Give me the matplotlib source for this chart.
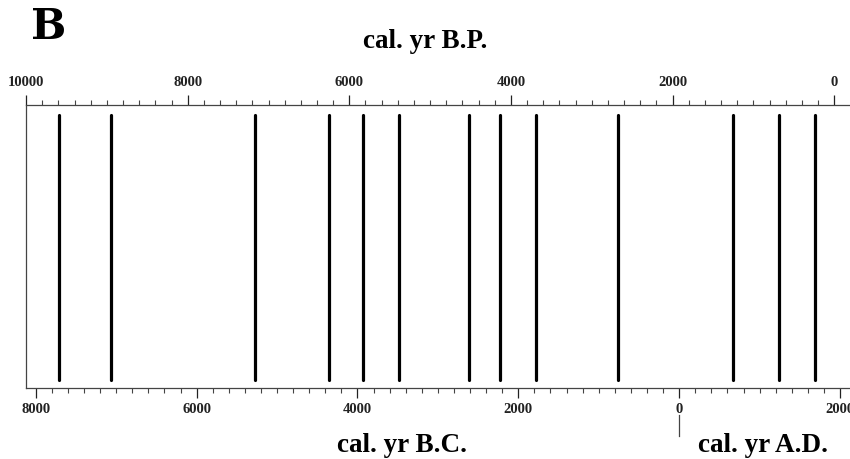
import matplotlib.pyplot as plt
from matplotlib.ticker import MultipleLocator, FuncFormatter
import matplotlib.transforms as mtransforms

# event ages, cal. yr B.P.
event_bp = [9590, 8950, 7170, 6255, 5830, 5385, 4515, 4135, 3695, 2680, 1250, 685, 240]

bp_major = [10000, 8000, 6000, 4000, 2000, 0]
ad_major = [-8000, -6000, -4000, -2000, 0, 2000]

plt.rcParams['font.family'] = ['Liberation Serif', 'DejaVu Serif']
plt.rcParams['font.weight'] = 'bold'

fig = plt.figure(figsize=(8.5, 4.59), dpi=100)
ax = fig.add_axes([0.0306, 0.1547, 0.9694, 0.6166])
ax2 = ax.twiny()

for bp in event_bp:
  ax.axvline(bp, ymin=0.03, ymax=0.965, color='black', lw=2.3, solid_capstyle='round')

# top axis: cal. yr B.P.
ax.set_xlim(10000, -194)
ax.set_ylim(0, 1)
ax.set_yticks([])
ax.xaxis.set_ticks_position('top')
ax.xaxis.set_label_position('top')
ax.set_xticks(bp_major)
ax.xaxis.set_minor_locator(MultipleLocator(200))
ax.tick_params(axis='x', which='major', direction='out', length=7.2, width=0.9, pad=4.5, labelsize=10.5, colors='#222222')
ax.tick_params(axis='x', which='minor', direction='out', length=3.3, width=0.8, colors='#444444')
ax.spines['right'].set_visible(False)
ax.spines['bottom'].set_visible(False)
for s in ['top', 'left']:
  ax.spines[s].set_linewidth(0.9)
  ax.spines[s].set_color('#444444')

# bottom axis: cal. yr B.C. / A.D.
ax2.set_xlim(-8121, 2124)
ax2.xaxis.set_ticks_position('bottom')
ax2.xaxis.set_label_position('bottom')
ax2.set_xticks(ad_major)
ax2.xaxis.set_minor_locator(MultipleLocator(200))
ax2.xaxis.set_major_formatter(FuncFormatter(lambda v, p: f'{abs(int(v))}'))
ax2.tick_params(axis='x', which='major', direction='out', length=7.2, width=0.9, pad=3.5, labelsize=10.5, colors='#222222')
ax2.tick_params(axis='x', which='minor', direction='out', length=3.3, width=0.8, colors='#444444')
for s in ['top', 'right', 'left']:
  ax2.spines[s].set_visible(False)
ax2.spines['bottom'].set_linewidth(0.9)
ax2.spines['bottom'].set_color('#444444')

for lab in ax.get_xticklabels() + ax2.get_xticklabels():
  lab.set_fontweight('bold')

# divider below the 0 label
trans = mtransforms.blended_transform_factory(ax2.transData, ax2.transAxes)
ax2.plot([0, 0], [-0.095, -0.17], color='#444444', lw=0.9, transform=trans, clip_on=False)

fig.text(0.5, 0.91, 'cal. yr B.P.', ha='center', va='center', fontsize=19.5, fontweight='bold')
fig.text(0.473, 0.03, 'cal. yr B.C.', ha='center', va='center', fontsize=19.5, fontweight='bold')
fig.text(0.898, 0.03, 'cal. yr A.D.', ha='center', va='center', fontsize=19.5, fontweight='bold')
fig.text(0.036, 0.941, 'B', ha='left', va='center', fontsize=30, fontweight='bold',
         family=['DejaVu Serif'])

fig.savefig('out.png', dpi=100)
